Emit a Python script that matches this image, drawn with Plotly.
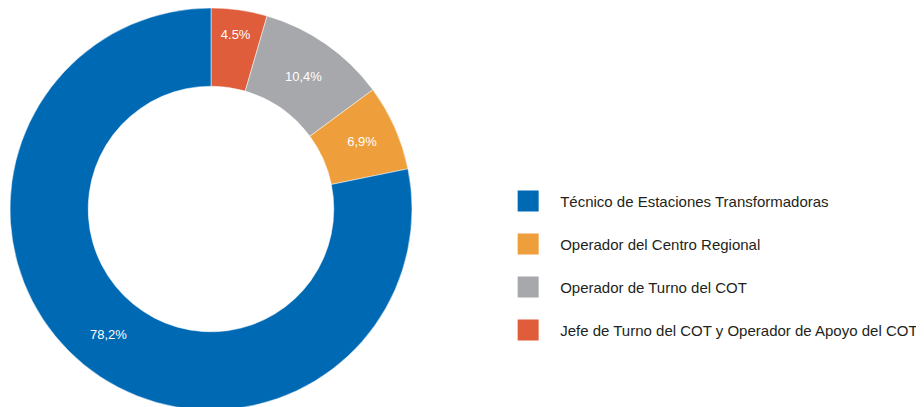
import plotly.graph_objects as go

# roles, share of staff (%) and the labels shown on the slices
roles = ['Técnico de Estaciones Transformadoras',
         'Operador del Centro Regional',
         'Operador de Turno del COT',
         'Jefe de Turno del COT y Operador de Apoyo del COT']
shares = [78.2, 6.9, 10.4, 4.5]
slice_labels = ['78,2%', '6,9%', '10,4%', '4.5%']
colors = ['#0069B4', '#EE9E3A', '#A7A8AC', '#E05D3B']

# slices go clockwise from 12 o'clock starting with the smallest role
order = [3, 2, 1, 0]

fig = go.Figure()

fig.add_trace(go.Pie(
    labels=[roles[i] for i in order],
    values=[shares[i] for i in order],
    text=[slice_labels[i] for i in order],
    textinfo='text',
    textposition='inside',
    insidetextorientation='horizontal',
    textfont=dict(family='Liberation Sans', size=13, color='white'),
    marker=dict(colors=[colors[i] for i in order],
                line=dict(color='white', width=0.5)),
    hole=0.611,
    sort=False,
    direction='clockwise',
    rotation=0,
    showlegend=False,
    domain=dict(x=[2 / 924, 404 / 924], y=[1 - 402 / 407, 1]),
))

# legend entries, one group each so the rows can be spaced out
for i in range(len(roles)):
    fig.add_trace(go.Scatter(
        x=[None], y=[None],
        mode='markers',
        name=roles[i],
        legendgroup=f'g{i}',
        marker=dict(symbol='square', size=16, color=colors[i],
                    line=dict(color=colors[i], width=5)),
        hoverinfo='skip',
    ))

fig.update_layout(
    width=924,
    height=407,
    margin=dict(l=0, r=0, t=0, b=0),
    paper_bgcolor='white',
    plot_bgcolor='white',
    xaxis=dict(visible=False),
    yaxis=dict(visible=False),
    font=dict(family='Liberation Sans', color='#231F20'),
    legend=dict(
        x=0.5283, xanchor='left',
        y=0.367, yanchor='middle',
        traceorder='grouped',
        tracegroupgap=20.5,
        itemwidth=54,
        font=dict(size=15, color='#231F20'),
        bgcolor='rgba(0,0,0,0)',
    ),
)

fig.write_html("out.html")
